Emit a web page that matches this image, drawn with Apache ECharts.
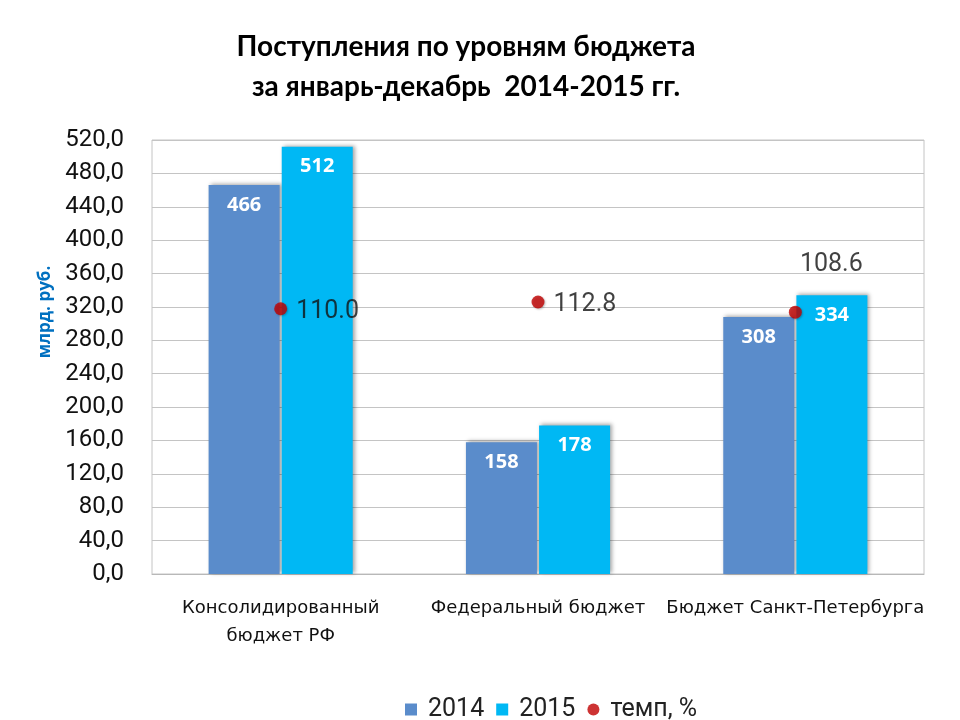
<!DOCTYPE html>
<html lang="ru">
<head>
    <meta charset="UTF-8">
    <title>Поступления по уровням бюджета</title>
    <script src="https://cdn.jsdelivr.net/npm/echarts@6/dist/echarts.min.js"></script>
    <style>
        html, body { margin: 0; padding: 0; background: #fff; }
        #main { width: 960px; height: 720px; }
    </style>
</head>
<body>
<div id="main"></div>
<script>
    // данные
    var categories = ['Консолидированный\nбюджет РФ', 'Федеральный бюджет', 'Бюджет Санкт-Петербурга'];
    var values2014 = [466, 158, 308];
    var values2015 = [512, 178, 334];
    var growthRate = [110.0, 112.8, 108.6];

    var myChart = echarts.init(document.getElementById('main'));

    var barShadow = {
        shadowColor: 'rgba(0,0,0,0.35)',
        shadowBlur: 4,
        shadowOffsetX: 2,
        shadowOffsetY: -1
    };

    var barLabel = {
        show: true,
        position: 'insideTop',
        distance: 10,
        color: '#fff',
        fontFamily: 'Open Sans',
        fontWeight: 'bold',
        fontSize: 20
    };

    myChart.setOption({
        animation: false,
        title: {
            text: 'Поступления по уровням бюджета\nза январь-декабрь  2014-2015 гг.',
            left: 461,
            top: 22,
            textAlign: 'center',
            textStyle: {
                fontFamily: 'Lato',
                fontWeight: 'bold',
                fontSize: 28,
                lineHeight: 40,
                color: '#000'
            }
        },
        legend: {
            left: 400,
            top: 692,
            itemWidth: 12,
            itemHeight: 12,
            itemGap: 12,
            textStyle: {
                fontFamily: 'Roboto',
                fontSize: 25,
                color: '#222',
                padding: [0, 0, 0, 6]
            },
            data: [
                {name: '2014', icon: 'rect'},
                {name: '2015', icon: 'rect'},
                {name: 'темп, %', icon: 'circle'}
            ]
        },
        grid: {
            left: 152,
            right: 36,
            top: 140,
            bottom: 146,
            show: true,
            borderColor: '#c4c4c4',
            borderWidth: 1
        },
        xAxis: {
            type: 'category',
            data: categories,
            axisLine: {lineStyle: {color: '#b8b8b8'}},
            axisTick: {show: false},
            axisLabel: {
                interval: 0,
                hideOverlap: false,
                margin: 20,
                fontFamily: 'DejaVu Sans',
                fontSize: 18,
                lineHeight: 28,
                color: '#111'
            }
        },
        yAxis: [{
            type: 'value',
            min: 0,
            max: 520,
            interval: 40,
            name: 'млрд. руб.',
            nameLocation: 'middle',
            nameRotate: 90,
            nameGap: 98,
            nameTextStyle: {
                color: '#0070c0',
                fontFamily: 'Open Sans',
                fontWeight: 'bold',
                fontSize: 17,
                padding: [0, 0, 0, 90]
            },
            axisLine: {show: false},
            axisTick: {show: false},
            splitLine: {lineStyle: {color: '#c4c4c4'}},
            axisLabel: {
                margin: 28,
                fontFamily: 'Roboto',
                fontSize: 24,
                color: '#111',
                formatter: function (v) {
                    return v.toFixed(1).replace('.', ',');
                }
            }
        }, {
            type: 'value',
            min: 0,
            max: 180,
            show: false,
            splitLine: {show: false}
        }],
        series: [{
            name: '2014',
            type: 'bar',
            barWidth: 71,
            barGap: '3%',
            itemStyle: Object.assign({color: '#5a8ccb'}, barShadow),
            label: barLabel,
            data: values2014
        }, {
            name: '2015',
            type: 'bar',
            barWidth: 71,
            itemStyle: Object.assign({color: '#00b8f4'}, barShadow),
            label: barLabel,
            data: values2015
        }, {
            name: 'темп, %',
            type: 'scatter',
            yAxisIndex: 1,
            symbolSize: 13,
            z: 5,
            itemStyle: {
                color: '#c00000',
                shadowColor: 'rgba(0,0,0,0.3)',
                shadowBlur: 2,
                shadowOffsetX: 1,
                shadowOffsetY: 1
            },
            label: {
                show: true,
                position: 'right',
                distance: 9,
                offset: [0, 3],
                fontFamily: 'Roboto',
                fontSize: 25,
                color: '#111',
                formatter: function (p) {
                    return p.value.toFixed(1);
                }
            },
            data: growthRate.map(function (v, i) {
                if (i === 2) {
                    return {value: v, label: {position: 'top', offset: [36, -19]}};
                }
                return v;
            })
        }]
    });
</script>
</body>
</html>
